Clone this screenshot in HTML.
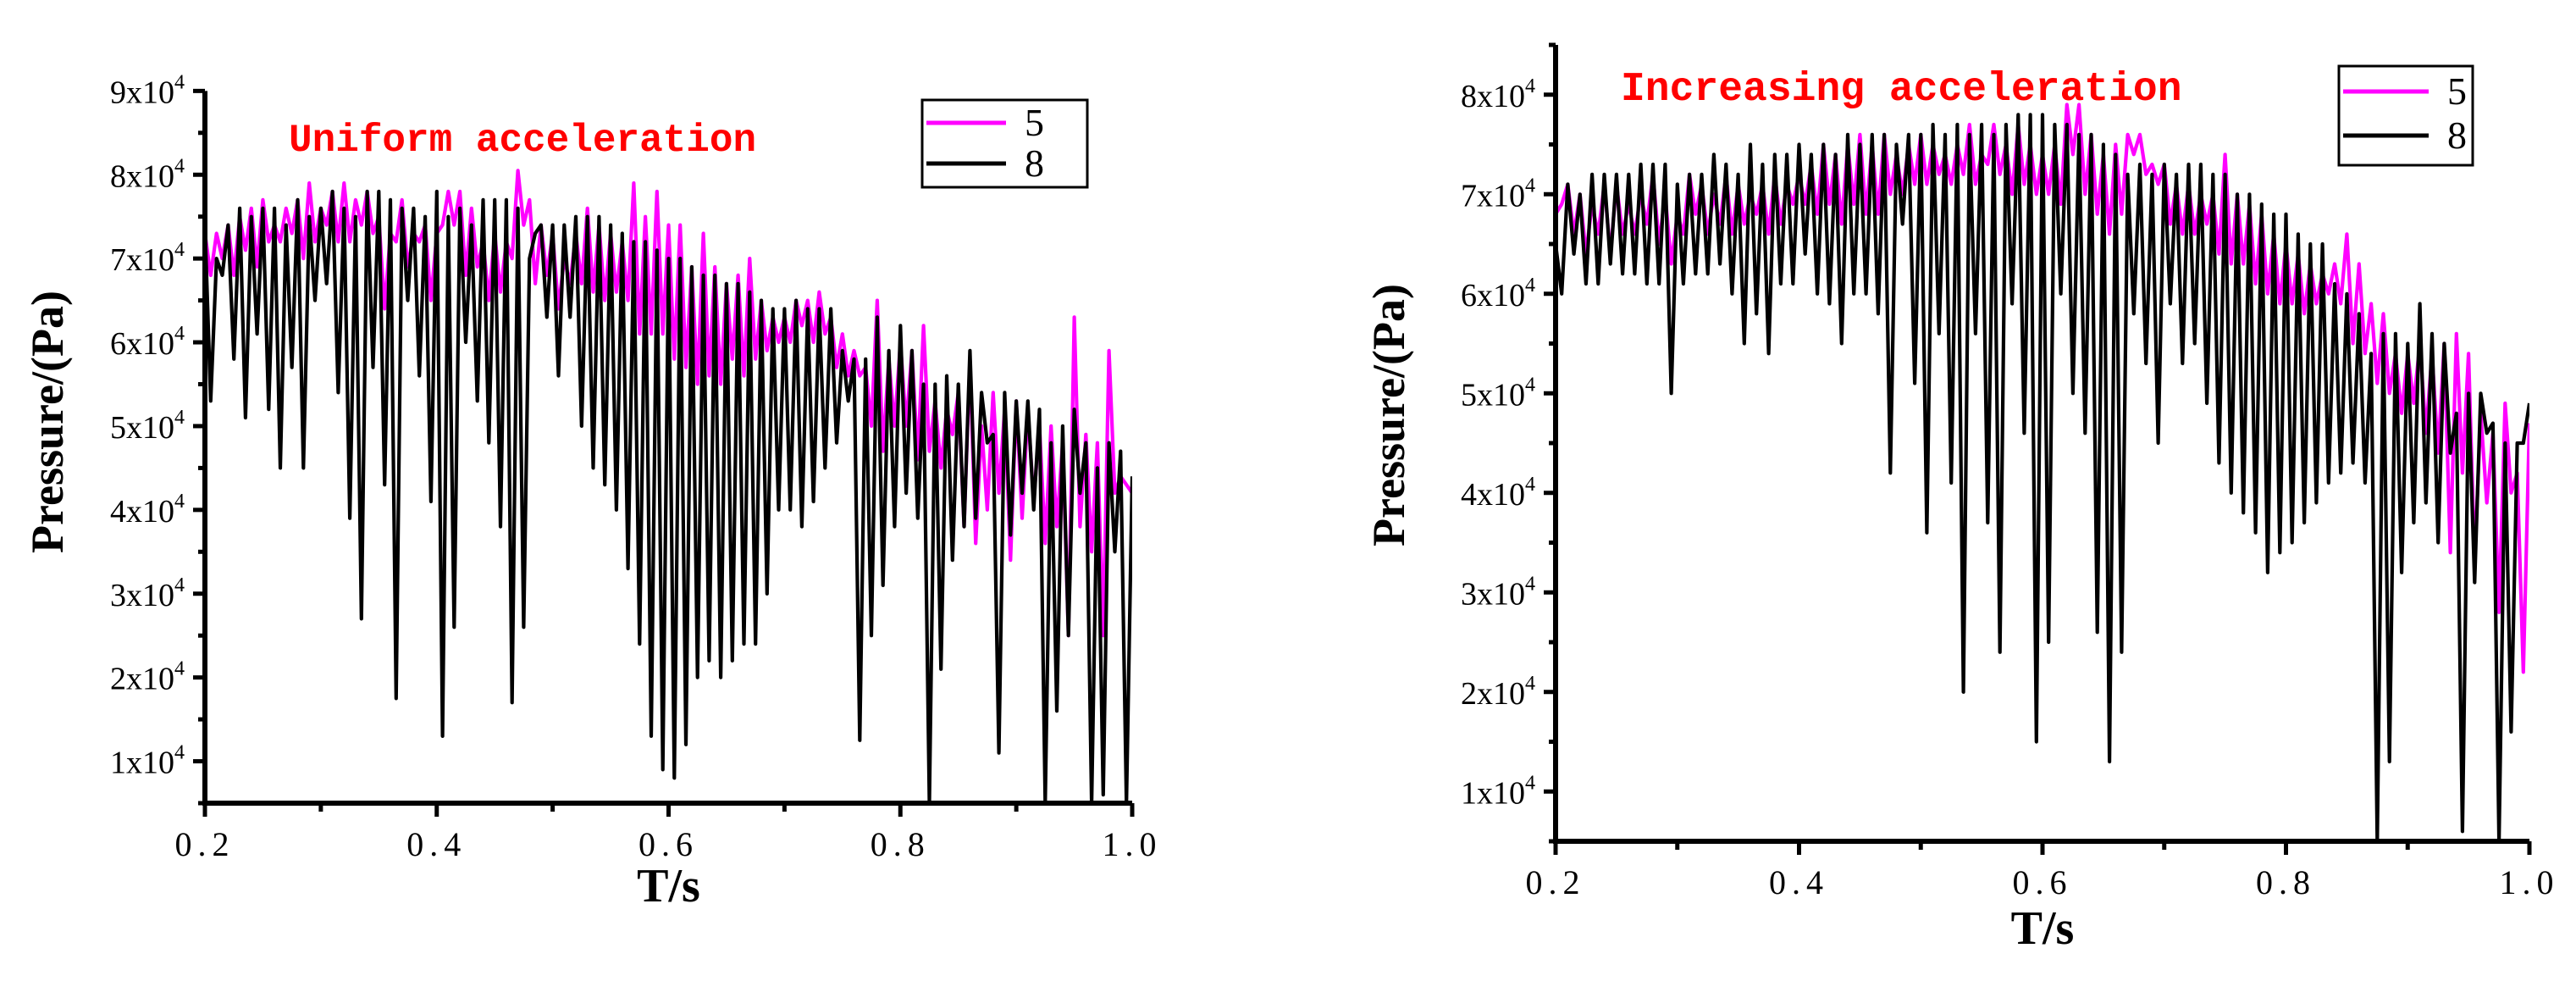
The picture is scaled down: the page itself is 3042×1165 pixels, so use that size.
<!DOCTYPE html>
<html><head><meta charset="utf-8"><style>
html,body{margin:0;padding:0;background:#fff}
svg text{font-family:"Liberation Serif",serif}
</style></head><body>
<svg id="svg" width="3042" height="1160" viewBox="0 0 3042 1160" xmlns="http://www.w3.org/2000/svg"></svg>
<script>
// Left chart (Uniform acceleration), values in units of 1e4 Pa, t from 0.2 step 0.005
const timeStart = 0.2, timeStep = 0.005;
const uniform8 = [7.4,
5.3,7.0,6.8,7.4,5.8,7.6,5.1,7.5,6.1,7.6,5.2,7.6,4.5,7.4,5.7,7.7,4.5,7.5,6.5,7.6,
6.7,7.8,5.4,7.6,3.9,7.5,2.7,7.8,5.7,7.8,4.3,7.7,1.75,7.6,6.5,7.6,5.6,7.5,4.1,7.8,
1.3,7.5,2.6,7.6,6.0,7.4,5.3,7.7,4.8,7.7,3.8,7.7,1.7,7.6,2.6,7.0,7.3,7.4,6.3,7.4,
5.6,7.4,6.3,7.5,5.0,7.5,4.5,7.5,4.3,7.4,4.0,7.3,3.3,7.2,2.4,7.2,1.3,7.1,0.9,7.0,
0.8,7.0,1.2,6.9,2.0,6.8,2.2,6.8,2.0,6.7,2.2,6.7,2.4,6.6,2.4,6.5,3.0,6.4,4.0,6.4,
4.0,6.5,3.8,6.4,4.1,6.4,4.5,6.4,4.8,5.9,5.3,5.8,1.25,5.8,2.5,6.3,3.1,5.9,3.8,6.2,
4.2,5.9,3.9,5.5,0.5,5.5,2.1,5.6,3.4,5.5,3.8,5.9,3.9,5.4,4.8,4.9,1.1,5.4,3.7,5.3,
4.2,5.3,4.0,5.2,0.5,4.8,1.6,5.0,2.5,5.2,4.2,4.8,0.5,4.5,0.6,4.8,3.5,4.7,0.5,4.4];
const uniform5 = [7.3,
6.8,7.3,7.0,7.4,6.8,7.5,7.1,7.6,6.9,7.7,7.2,7.4,7.2,7.6,7.3,7.7,7.0,7.9,7.2,7.6,
7.4,7.8,7.2,7.9,7.2,7.7,7.4,7.8,7.3,7.5,6.4,7.3,7.2,7.7,6.9,7.3,7.2,7.4,6.5,7.3,
7.4,7.8,7.4,7.8,6.8,7.6,6.9,7.2,6.5,7.3,6.6,7.2,7.0,8.05,7.4,7.7,6.7,7.4,6.8,7.3,
6.4,7.0,6.7,7.3,6.7,7.6,6.6,7.4,6.5,7.3,6.6,7.2,6.5,7.9,6.1,7.5,6.1,7.8,6.1,7.4,
5.8,7.4,5.7,6.9,5.5,7.3,5.6,6.9,5.5,6.7,5.8,6.8,5.6,7.0,5.8,6.5,5.9,6.3,6.0,6.3,
6.0,6.5,6.2,6.5,6.0,6.6,6.1,6.3,5.7,6.1,5.6,5.9,5.6,5.7,5.0,6.5,4.7,5.8,5.0,6.0,
5.0,5.9,4.6,6.2,4.7,5.3,4.5,5.2,4.9,5.4,3.8,5.8,3.6,5.0,4.0,5.4,4.2,5.2,3.4,5.3,
3.9,5.2,4.1,5.0,3.6,5.0,3.8,4.8,2.5,6.3,3.8,4.9,3.5,4.8,2.5,5.9,4.2,4.4,4.3,4.2];
// Right chart (Increasing acceleration)
const increasing8 = [6.5,
6.0,7.1,6.4,7.0,6.1,7.2,6.1,7.2,6.3,7.2,6.2,7.2,6.2,7.3,6.1,7.3,6.1,7.3,5.0,7.1,
6.1,7.2,6.2,7.2,6.2,7.4,6.3,7.3,6.0,7.2,5.5,7.5,5.8,7.3,5.4,7.4,6.1,7.4,6.1,7.5,
6.4,7.4,6.0,7.5,5.9,7.4,5.5,7.6,6.0,7.5,6.0,7.6,5.8,7.6,4.2,7.5,6.7,7.6,5.1,7.6,
3.6,7.7,5.6,7.6,4.1,7.7,2.0,7.6,5.6,7.7,3.7,7.6,2.4,7.7,5.9,7.8,4.6,7.8,1.5,7.8,
2.5,7.7,6.0,7.7,5.0,7.6,4.6,7.6,2.6,7.5,1.3,7.4,2.4,7.2,5.8,7.3,5.3,7.2,4.5,7.3,
5.9,7.2,5.3,7.3,5.5,7.3,4.9,7.2,4.3,7.2,4.0,7.0,3.8,7.0,3.6,6.9,3.2,6.8,3.4,6.8,
3.5,6.6,3.7,6.5,3.9,6.5,4.1,6.1,4.2,6.0,4.3,5.8,4.1,5.4,0.5,5.6,1.3,5.6,3.2,5.5,
3.7,5.9,3.9,5.6,3.5,5.5,4.4,4.8,0.6,5.0,3.1,5.0,4.6,4.7,0.5,4.5,1.6,4.5,4.5,4.9];
const increasing5 = [6.8,
6.9,7.1,6.6,7.0,6.4,6.9,6.6,7.1,6.4,7.1,6.6,6.9,6.6,7.0,6.7,7.2,6.5,7.0,6.3,6.8,
6.6,7.2,6.8,7.1,6.6,7.0,6.7,7.2,6.6,7.1,6.7,7.0,6.8,7.1,6.6,7.2,6.7,7.1,6.9,7.2,
6.9,7.3,6.8,7.5,6.9,7.4,6.7,7.5,6.9,7.6,6.8,7.5,6.8,7.6,7.0,7.4,7.0,7.5,7.1,7.6,
7.1,7.5,7.2,7.4,7.1,7.5,7.2,7.7,7.1,7.4,7.3,7.7,7.2,7.5,7.0,7.7,7.1,7.5,7.0,7.4,
7.0,7.5,6.9,7.9,7.4,7.9,7.0,7.6,6.8,7.4,6.6,7.5,6.8,7.6,7.4,7.6,7.2,7.3,7.1,7.3,
6.7,7.1,6.6,7.1,6.6,7.0,6.7,7.0,6.4,7.4,6.3,7.0,6.3,6.9,6.1,6.8,6.0,6.6,5.9,6.5,
5.9,6.4,5.8,6.3,5.9,6.2,6.0,6.3,5.9,6.6,5.5,6.3,5.4,5.9,5.1,5.8,5.0,5.4,4.8,5.4,
4.9,5.5,4.6,5.4,4.4,5.5,3.4,5.6,4.2,5.4,3.3,4.8,3.9,4.6,2.8,4.9,4.0,4.2,2.2,4.7];
const xTicks = ["0.2","0.4","0.6","0.8","1.0"];
const yTicksLeft = [1,2,3,4,5,6,7,8,9];
const yTicksRight = [1,2,3,4,5,6,7,8];

const NS="http://www.w3.org/2000/svg";
const svg=document.getElementById('svg');
function mk(tag,attrs,parent){const e=document.createElementNS(NS,tag);for(const k in attrs)e.setAttribute(k,attrs[k]);(parent||svg).appendChild(e);return e;}

function chart(cfg){
  const g=mk('g',{});
  
  
  const xs=v=>cfg.x0+(v-0.2)/0.8*(cfg.x1-cfg.x0);
  const ys=v=>cfg.yb-(v-0.5)*cfg.ppu;
  const ytop=ys(cfg.ymax);
  const clipId=cfg.name+'-clip';
  const cp=mk('clipPath',{id:clipId},g);
  mk('rect',{x:cfg.x0,y:ytop-5,width:cfg.x1-cfg.x0,height:cfg.yb-ytop+5},cp);
  const series=[[cfg.s5,'#ff00ff','series-5-line'],[cfg.s8,'#000','series-8-line']];
  for(const [arr,col,nm] of series){
    let d='';
    arr.forEach((v,i)=>{d+=(i?'L':'M')+xs(timeStart+i*timeStep).toFixed(1)+' '+ys(v).toFixed(1);});
    const p=mk('path',{d:d,fill:'none',stroke:col,'stroke-width':4.2,'stroke-linejoin':'round','clip-path':'url(#'+clipId+')'},g);
    
    
  }
  const ax=mk('path',{d:`M${cfg.x0} ${ytop}V${cfg.yb}H${cfg.x1}`,fill:'none',stroke:'#000','stroke-width':6},g);
  
  
  for(let v=0.5; v<=cfg.ymax+0.001; v+=0.5){
    const major=Math.abs(v-Math.round(v))<0.01;
    mk('line',{x1:cfg.x0-(major?14:8),x2:cfg.x0,y1:ys(v),y2:ys(v),stroke:'#000','stroke-width':5},g);
  }
  cfg.yt.forEach(v=>{
    const t=mk('text',{x:cfg.x0-24,y:ys(v)+14,'text-anchor':'end','font-size':38},g);
    
    
    t.innerHTML=v+'x10<tspan dy="-17" font-size="24">4</tspan>';
  });
  for(let k=0;k<=8;k++){
    const x=cfg.x0+k/8*(cfg.x1-cfg.x0);
    mk('line',{x1:x,x2:x,y1:cfg.yb,y2:cfg.yb+(k%2?10:16),stroke:'#000','stroke-width':5},g);
  }
  xTicks.forEach((lab,i)=>{
    const t=mk('text',{x:cfg.x0+i/4*(cfg.x1-cfg.x0),y:cfg.yb+62,'text-anchor':'middle','font-size':40,'letter-spacing':'7'},g);
    
    
    t.textContent=lab;
  });
  const xt=mk('text',{x:(cfg.x0+cfg.x1)/2,y:cfg.xty,'text-anchor':'middle','font-size':56,'font-weight':'bold'},g);
  
  
  xt.textContent='T/s';
  const yt=mk('text',{x:0,y:0,'text-anchor':'middle','font-size':54,'font-weight':'bold',transform:`translate(${cfg.ytx},${cfg.yty}) rotate(-90)`},g);
  
  
  yt.textContent='Pressure/(Pa)';
  const tt=mk('text',{x:cfg.tx,y:cfg.ty,'font-size':cfg.tfs,'font-weight':'bold',fill:'#ff0000',style:'font-family:"Liberation Mono",monospace'},g);
  
  
  tt.textContent=cfg.title;
  const L=cfg.leg;
  const lg=mk('g',{},g);
  
  
  mk('rect',{x:L.x,y:L.y,width:L.w,height:L.h,fill:'#fff',stroke:'#000','stroke-width':3},lg);
  [['5','#ff00ff',L.y1],['8','#000',L.y2]].forEach(([lab,col,yy])=>{
    const e=mk('g',{},lg);
    
    
    mk('line',{x1:L.x+5,x2:L.lx2,y1:yy,y2:yy,stroke:col,'stroke-width':5},e);
    const t=mk('text',{x:L.tx,y:yy+15,'font-size':46},e);
    t.textContent=lab;
  });
}
chart({name:'uniform-chart',x0:242,x1:1337,yb:948,ppu:98.9,ymax:9,s5:uniform5,s8:uniform8,yt:yTicksLeft,
  xty:1064,ytx:74,yty:498,tx:341,ty:178,tfs:46,title:'Uniform acceleration',
  leg:{x:1089,y:118,w:195,h:103,y1:145,y2:193,lx2:1188,tx:1210}});
chart({name:'increasing-chart',x0:1837,x1:2987,yb:993,ppu:117.5,ymax:8.5,s5:increasing5,s8:increasing8,yt:yTicksRight,
  xty:1114,ytx:1658,yty:490,tx:1914,ty:118,tfs:48,title:'Increasing acceleration',
  leg:{x:2762,y:78,w:158,h:117,y1:108,y2:160,lx2:2868,tx:2890}});
</script>
</body></html>
